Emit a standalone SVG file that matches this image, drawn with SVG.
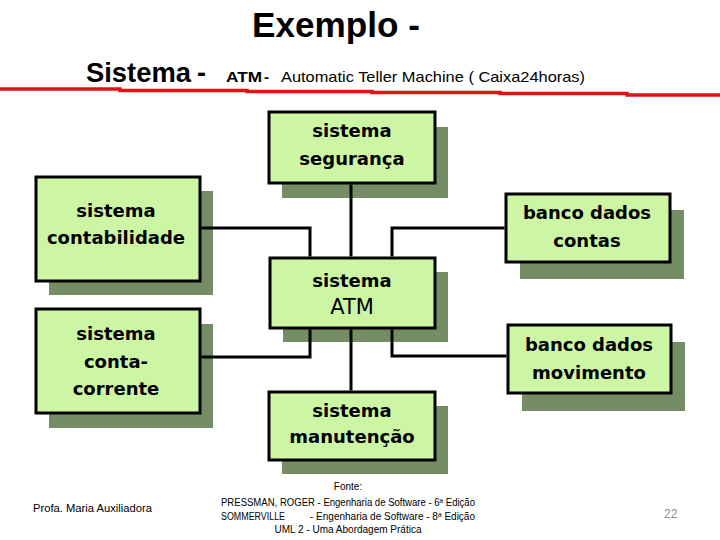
<svg xmlns="http://www.w3.org/2000/svg" width="720" height="540" viewBox="0 0 720 540">
<style>
.hdr{font-family:"Liberation Sans",Arial,sans-serif;font-weight:bold;fill:#000}
.sub{font-family:"Liberation Sans",Arial,sans-serif;fill:#000}
.ft{font-family:"Liberation Sans",Arial,sans-serif;font-size:10px;fill:#000}
.shadow{fill:#758d65}
.box{fill:#cdf6a4;stroke:#000;stroke-width:3}
.lbl{font-family:"DejaVu Sans",Verdana,sans-serif;font-weight:bold;font-size:18px;fill:#000;text-anchor:middle}
.conn{fill:none;stroke:#000;stroke-width:3}
</style>
<rect width="720" height="540" fill="#fff"/>
<g id="header">
<text class="hdr" x="252" y="37" font-size="35" textLength="168" lengthAdjust="spacingAndGlyphs">Exemplo -</text>
<text class="hdr" x="86" y="82" font-size="27" textLength="105" lengthAdjust="spacingAndGlyphs">Sistema</text>
<text class="hdr" x="197" y="82" font-size="27">-</text>
<text class="hdr" x="226" y="82" font-size="15" textLength="36" lengthAdjust="spacingAndGlyphs">ATM</text>
<text class="hdr" x="264" y="82" font-size="15">-</text>
<text class="sub" x="281" y="82" font-size="15" textLength="304" lengthAdjust="spacingAndGlyphs">Automatic Teller Machine ( Caixa24horas)</text>
<path d="M0 89 H120 V90.5 H247 V91.5 H372 V92.5 H500 V93.5 H627 V95 H720" fill="none" stroke="#e01414" stroke-width="3.5"/>
</g>
<g id="seguranca">
<rect class="shadow" x="282" y="127" width="166" height="71"/>
<rect class="box" x="269" y="112" width="166" height="71"/>
<text class="lbl" x="352" y="137">sistema</text>
<text class="lbl" x="352" y="165">segurança</text>
</g>
<g id="contabilidade">
<rect class="shadow" x="49" y="191" width="164" height="104"/>
<rect class="box" x="36" y="177" width="164" height="104"/>
<text class="lbl" x="116" y="217">sistema</text>
<text class="lbl" x="116" y="244">contabilidade</text>
</g>
<g id="atm">
<rect class="shadow" x="283" y="272" width="165" height="70"/>
<rect class="box" x="270" y="258" width="165" height="70"/>
<text class="lbl" x="352" y="287">sistema</text>
<text class="lbl" x="352" y="314" style="font-weight:normal;font-size:21px">ATM</text>
</g>
<g id="contas">
<rect class="shadow" x="520" y="210" width="164" height="69"/>
<rect class="box" x="506" y="194" width="164" height="68"/>
<text class="lbl" x="587" y="219">banco dados</text>
<text class="lbl" x="587" y="247">contas</text>
</g>
<g id="contacorrente">
<rect class="shadow" x="49" y="324" width="164" height="104"/>
<rect class="box" x="36" y="309" width="164" height="104"/>
<text class="lbl" x="116" y="340">sistema</text>
<text class="lbl" x="116" y="368">conta-</text>
<text class="lbl" x="116" y="395">corrente</text>
</g>
<g id="movimento">
<rect class="shadow" x="522" y="342" width="163" height="69"/>
<rect class="box" x="508" y="325" width="163" height="68"/>
<text class="lbl" x="589" y="351">banco dados</text>
<text class="lbl" x="589" y="379">movimento</text>
</g>
<g id="manutencao">
<rect class="shadow" x="282" y="406" width="166" height="68"/>
<rect class="box" x="269" y="392" width="166" height="68"/>
<text class="lbl" x="352" y="417">sistema</text>
<text class="lbl" x="352" y="443">manutenção</text>
</g>
<g id="connectors">
<path class="conn" d="M351 184.5 V256.5"/>
<path class="conn" d="M201.5 228 H310 V256.5"/>
<path class="conn" d="M392 256.5 V228 H504.5"/>
<path class="conn" d="M310 329.5 V357 H201.5"/>
<path class="conn" d="M392 329.5 V356 H506.5"/>
<path class="conn" d="M351 329.5 V390.5"/>
</g>
<g id="footer">
<text class="ft" x="33" y="512" textLength="119" lengthAdjust="spacingAndGlyphs">Profa. Maria Auxiliadora</text>
<text class="ft" x="348" y="490" text-anchor="middle">Fonte:</text>
<text class="ft" x="221" y="506" textLength="254" lengthAdjust="spacingAndGlyphs">PRESSMAN, ROGER - Engenharia de Software  - 6ª Edição</text>
<text class="ft" x="221" y="520" textLength="64" lengthAdjust="spacingAndGlyphs">SOMMERVILLE</text>
<text class="ft" x="310" y="520" textLength="165" lengthAdjust="spacingAndGlyphs">- Engenharia de Software  - 8ª Edição</text>
<text class="ft" x="348" y="533" text-anchor="middle">UML 2 - Uma Abordagem Prática</text>
<text class="ft" x="664" y="518" style="fill:#8c8c8c;font-size:12px">22</text>
</g>
</svg>
